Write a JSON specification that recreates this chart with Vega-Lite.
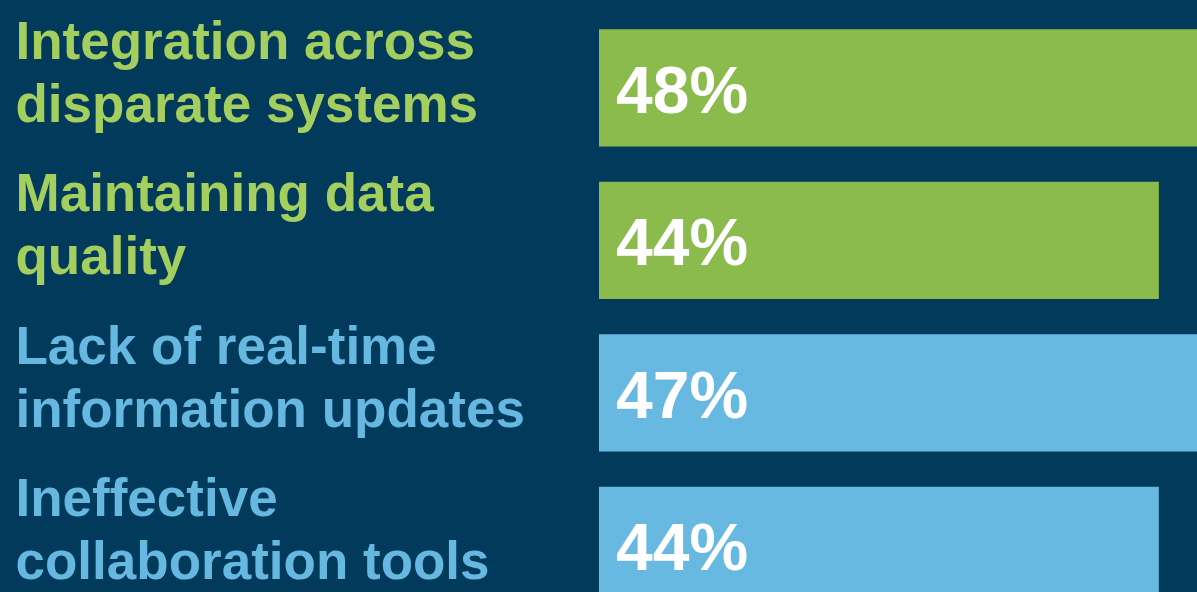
{
  "$schema": "https://vega.github.io/schema/vega-lite/v6.json",
  "width": 598,
  "height": 592,
  "autosize": "none",
  "padding": {"left": 599, "top": 0, "right": 0, "bottom": 0},
  "background": "#023a5c",
  "config": {"view": {"stroke": null}, "font": "Liberation Sans"},
  "data": {
    "values": [
      {"challenge": "Integration across|disparate systems", "pct": 48, "label": "48%", "group": "green"},
      {"challenge": "Maintaining data|quality", "pct": 44, "label": "44%", "group": "green"},
      {"challenge": "Lack of real-time|information updates", "pct": 47, "label": "47%", "group": "blue"},
      {"challenge": "Ineffective|collaboration tools", "pct": 44, "label": "44%", "group": "blue"}
    ]
  },
  "encoding": {
    "y": {
      "field": "challenge",
      "type": "nominal",
      "sort": null,
      "scale": {"range": [29.3, 604.1], "paddingInner": 0.231, "paddingOuter": 0},
      "axis": {
        "title": null,
        "domain": false,
        "ticks": false,
        "grid": false,
        "labelAlign": "left",
        "labelBaseline": "alphabetic",
        "labelPadding": 584,
        "labelFont": "Liberation Sans",
        "labelFontSize": 53,
        "labelFontWeight": "bold",
        "labelLineHeight": 63,
        "labelLimit": 0,
        "labelOffset": -29,
        "labelExpr": "split(datum.label, '|')",
        "labelColor": {
          "condition": {"test": "indexof(datum.value, 'Integration') >= 0 || indexof(datum.value, 'Maintaining') >= 0", "value": "#a4cf5e"},
          "value": "#66b8e0"
        }
      }
    }
  },
  "layer": [
    {
      "mark": {"type": "bar", "clip": true},
      "encoding": {
        "x": {"field": "pct", "type": "quantitative", "scale": {"domain": [0, 47], "nice": false, "zero": true}, "axis": null},
        "color": {
          "field": "group",
          "type": "nominal",
          "scale": {"domain": ["green", "blue"], "range": ["#8bbb4c", "#67b9e2"]},
          "legend": null
        }
      }
    },
    {
      "mark": {
        "type": "text",
        "align": "left",
        "baseline": "alphabetic",
        "dx": 17,
        "dy": 25,
        "font": "Liberation Sans",
        "fontSize": 66,
        "fontWeight": "bold",
        "color": "#ffffff"
      },
      "encoding": {
        "x": {"datum": 0, "type": "quantitative", "scale": {"domain": [0, 47], "nice": false}},
        "text": {"field": "label", "type": "nominal"}
      }
    }
  ]
}
